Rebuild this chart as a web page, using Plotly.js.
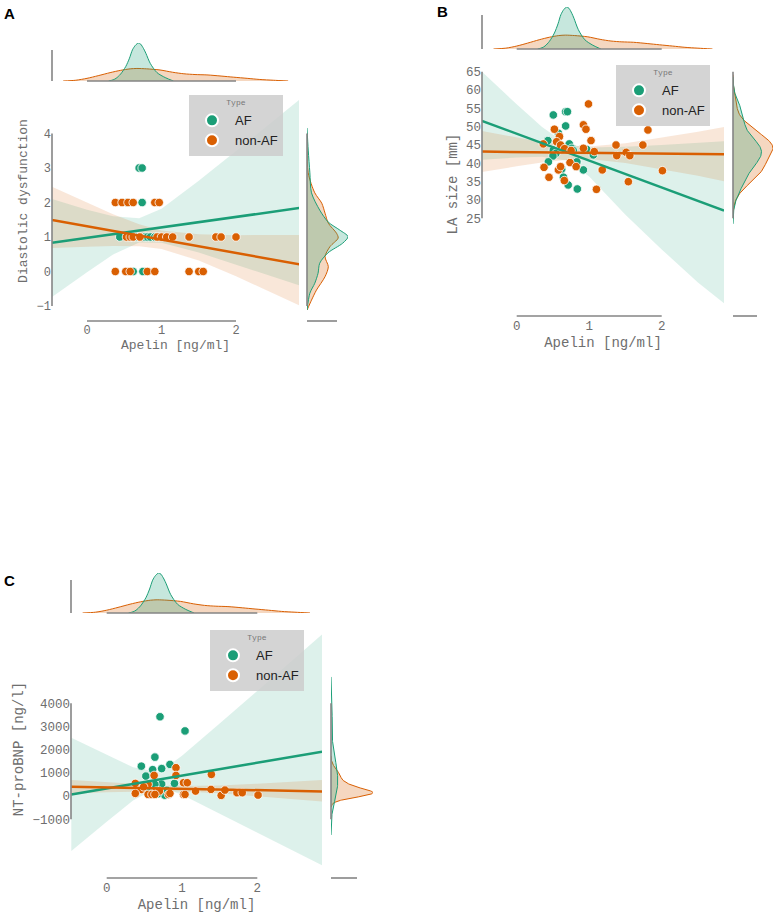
<!DOCTYPE html>
<html><head><meta charset="utf-8">
<script src="https://cdn.plot.ly/plotly-3.0.1.min.js"></script>
<style>html,body{margin:0;padding:0;background:#fff}#chart{width:783px;height:915px}</style>
</head><body><div id="chart"></div>
<script>
// ================= DATA =================
const groupNames = ['AF', 'non-AF'];
const xTicks = [0, 1, 2];

// ---- Apelin marginal densities (same in all three panels; relative heights) ----
const afApelinGrid  = [0.29, 0.35, 0.39, 0.45, 0.52, 0.57, 0.61, 0.65, 0.69, 0.72, 0.76, 0.79, 0.85, 0.94, 1.05, 1.16];
const afApelinDens  = [0, 0.03, 0.07, 0.18, 0.38, 0.60, 0.82, 0.94, 1.00, 0.97, 0.85, 0.73, 0.46, 0.22, 0.09, 0];
const nonApelinGrid = [-0.32, -0.15, 0, 0.15, 0.31, 0.45, 0.58, 0.67, 0.80, 0.98, 1.15, 1.30, 1.45, 1.61, 1.80, 1.97, 2.15, 2.32, 2.50, 2.70];
const nonApelinDens = [0, 0.02, 0.07, 0.14, 0.22, 0.28, 0.32, 0.33, 0.32, 0.29, 0.23, 0.19, 0.17, 0.16, 0.13, 0.10, 0.07, 0.04, 0.02, 0];

// ---- Panel A : Apelin vs Diastolic dysfunction ----
const afApelinA  = [0.44,0.54,0.60,0.62,0.66,0.70,0.70,0.74,0.74,0.75,0.78,0.81,0.85,0.91,0.95];
const afDiastA   = [1,2,1,0,1,3,1,3,2,0,1,1,1,1,1];
const nonApelinA = [0.38,0.47,0.55,0.62,0.91,0.97,0.53,0.58,0.62,0.71,0.94,1.00,1.07,1.15,1.37,1.73,1.80,2.00,0.38,0.52,0.58,0.81,0.91,1.37,1.50,1.56];
const nonDiastA  = [2,2,2,2,2,2,1,1,1,1,1,1,1,1,1,1,1,1,0,0,0,0,0,0,0,0];
const lineXA   = [-0.47, 2.85];
const afLineA  = [0.83, 1.84];
const nonLineA = [1.49, 0.21];
const bandXA   = [-0.47, 0, 0.35, 0.7, 1.0, 1.5, 2.0, 2.5, 2.85];
const afUpA    = [2.10, 1.79, 1.60, 1.54, 1.82, 2.63, 3.49, 4.36, 4.98];
const afLoA    = [-0.74, -0.02, 0.49, 0.84, 0.83, 0.55, 0.21, -0.15, -0.40];
const nonUpA   = [2.46, 2.00, 1.66, 1.37, 1.19, 1.08, 1.05, 1.06, 1.06];
const nonLoA   = [0.68, 0.72, 0.74, 0.73, 0.65, 0.32, -0.14, -0.63, -0.98];
const yTicksA  = [-1, 0, 1, 2, 3, 4];
// diastolic-dysfunction marginal densities (relative heights)
const afDiastGrid  = [4.16, 3.52, 2.86, 2.28, 1.78, 1.43, 1.20, 1.01, 0.82, 0.54, 0.24, -0.05, -0.34, -0.63, -1.12];
const afDiastDens  = [0, 0.03, 0.07, 0.11, 0.31, 0.52, 0.80, 1.00, 0.87, 0.51, 0.31, 0.27, 0.19, 0.07, 0];
const nonDiastGrid = [4.00, 2.86, 2.28, 1.98, 1.69, 1.40, 1.11, 0.97, 0.72, 0.43, 0.14, -0.15, -0.54, -0.83, -1.12];
const nonDiastDens = [0, 0.03, 0.19, 0.36, 0.44, 0.52, 0.72, 0.76, 0.56, 0.44, 0.52, 0.44, 0.23, 0.11, 0];

// ---- Panel B : Apelin vs LA size ----
const afApelinB  = [0.505,0.675,0.70,0.675,0.575,0.43,0.725,0.76,0.505,0.54,0.50,0.965,1.057,0.437,0.83,0.62,0.92,0.645,0.71,0.836,0.78,0.60];
const afLaB      = [53.2,54.1,54.1,50.2,48.2,46.2,45.3,44.1,43.6,42.7,42.0,43.8,42.3,40.4,40.4,38.4,38.2,36.2,34.1,33.0,43.5,44.5];
const nonApelinB = [0.99,0.52,0.92,0.955,0.367,0.59,0.55,0.605,1.025,0.92,1.07,1.37,1.38,1.51,1.56,1.74,1.81,2.01,1.18,1.54,1.10,0.377,0.445,0.575,0.605,0.657,0.735,0.82,0.66,0.75];
const nonLaB     = [56.2,49.3,50.5,49.3,45.3,47.3,45.9,45.0,46.2,44.1,43.2,45.0,42.1,43.0,42.1,45.0,49.1,38.0,38.2,35.0,32.9,38.9,36.2,38.2,39.1,35.3,40.2,39.1,44.0,43.5];
const lineXB   = [-0.48, 2.86];
const afLineB  = [51.6, 27.1];
const nonLineB = [43.2, 42.5];
const bandXB   = [-0.48, 0, 0.35, 0.7, 1.0, 1.5, 2.0, 2.5, 2.86];
const afUpB    = [65.0, 56.1, 49.9, 45.1, 44.3, 44.5, 45.0, 45.6, 46.0];
const afLoB    = [41.0, 41.6, 41.8, 40.7, 36.4, 26.0, 16.5, 7.5, 1.8];
const nonUpB   = [48.8, 47.0, 45.8, 44.9, 44.6, 45.5, 47.0, 48.6, 49.9];
const nonLoB   = [37.6, 39.2, 40.2, 41.0, 41.2, 40.1, 38.4, 36.6, 35.1];
const yTicksB  = [25, 30, 35, 40, 45, 50, 55, 60, 65];

// ---- Panel C : Apelin vs NT-proBNP ----
const afApelinC  = [0.708,1.04,0.64,0.46,0.84,0.73,0.61,0.52,0.90,0.73,0.64,0.77,0.68,0.55,0.80];
const afBnpC     = [3420,2810,1680,1290,1366,1185,1140,862,547,520,504,40,100,150,250];
const nonApelinC = [0.92,0.63,0.92,1.39,0.38,0.55,1.02,1.07,0.46,0.38,0.66,0.70,0.55,0.60,0.64,0.82,1.02,1.04,1.18,1.385,1.52,1.57,1.73,1.80,2.01,0.84,0.49];
const nonBnpC    = [1224,892,892,935,547,504,577,577,289,116,216,216,73,73,73,73,73,73,216,289,30,259,147,147,43,116,400];
const lineXC   = [-0.47, 2.86];
const afLineC  = [73, 1914];
const nonLineC = [405, 203];
const bandXC   = [-0.47, 0, 0.35, 0.7, 1.0, 1.5, 2.0, 2.5, 2.86];
const afUpC    = [2517, 1772, 1242, 1030, 1740, 3126, 4536, 5950, 6970];
const afLoC    = [-2371, -1106, -190, 410, 62, -743, -1564, -2391, -2987];
const nonUpC   = [690, 589, 521, 465, 436, 460, 535, 624, 690];
const nonLoC   = [100, 163, 189, 203, 196, 121, 2, -131, -230];
const yTicksC  = [-1000, 0, 1000, 2000, 3000, 4000];

// ================= STYLE / LAYOUT =================
const W = 783, H = 915;
const PX = p => p / W;
const PY = p => 1 - p / H;
const lin = (v1, p1, v2, p2, p) => v1 + (p - p1) * (v2 - v1) / (p2 - p1);
const COL = {AF: '#1b9e77', non: '#d95f02'};
const BAND = {AF: 'rgba(27,158,119,0.15)', non: 'rgba(217,95,2,0.15)'};
const KFILL = {AF: 'rgba(27,158,119,0.25)', non: 'rgba(217,95,2,0.25)'};
const SPINE = '#858585';
const MONO = 'Liberation Mono, Courier New, monospace';
const SANS = 'Liberation Sans, Arial, sans-serif';

// Gaussian KDE (Scott bandwidth, common normalisation) from the point data
function kde(vals, total) {
  const n = vals.length;
  const m = vals.reduce((a, b) => a + b, 0) / n;
  const sd = Math.sqrt(vals.reduce((a, b) => a + (b - m) ** 2, 0) / (n - 1));
  const bw = sd * Math.pow(n, -0.2);
  const lo = Math.min(...vals) - 3 * bw, hi = Math.max(...vals) + 3 * bw;
  const g = [], d = [];
  for (let i = 0; i <= 240; i++) {
    const x = lo + (hi - lo) * i / 240;
    let s = 0;
    for (const v of vals) { const z = (x - v) / bw; s += Math.exp(-0.5 * z * z); }
    g.push(x); d.push(s / (total * bw * Math.sqrt(2 * Math.PI)));
  }
  return {g, d, shape: 'linear'};
}

const traces = [], layout = {
  width: W, height: H, margin: {l: 0, r: 0, t: 0, b: 0},
  paper_bgcolor: '#fff', plot_bgcolor: 'rgba(0,0,0,0)', showlegend: true,
  hovermode: false, shapes: [], annotations: []
};
const axKey = id => (id[0] === 'x' ? 'xaxis' : 'yaxis') + id.slice(1);
const topA = {g: afApelinGrid, d: afApelinDens, shape: 'spline'};
const topN = {g: nonApelinGrid, d: nonApelinDens, shape: 'spline'};

function panel(c) {
  const [xm, ym] = c.main, [xt, yt] = c.top, [xr, yr] = c.right;
  const xRange = [lin(...c.xcal, c.l), lin(...c.xcal, c.r)];
  const yRange = [lin(...c.ycal, c.b), lin(...c.ycal, c.t)];
  const yLo = c.yTicks[0], yHi = c.yTicks[c.yTicks.length - 1];
  const N = c.afX.length + c.nonX.length;
  const kxA = topA, kxN = topN;
  const kyA = c.rightA || kde(c.afY, N), kyN = c.rightN || kde(c.nonY, N);
  const maxTop = Math.max(...kxA.d, ...kxN.d);
  const maxRight = Math.max(...kyA.d, ...kyN.d);

  layout[axKey(xm)] = {domain: [PX(c.l), PX(c.r)], range: xRange, anchor: 'free', position: PY(c.xSpine),
    showline: false, showgrid: false, zeroline: false, ticks: '', tickvals: xTicks,
    tickfont: {family: MONO, size: c.tickSize, color: '#6e6e6e'},
    title: {text: 'Apelin [ng/ml]', font: {family: MONO, size: c.titleSize, color: '#6e6e6e'}, standoff: c.xStand}};
  layout[axKey(ym)] = {domain: [PY(c.b), PY(c.t)], range: yRange, anchor: xm,
    showline: false, showgrid: false, zeroline: false, ticks: '', tickvals: c.yTicks,
    tickfont: {family: MONO, size: c.tickSize, color: '#6e6e6e'},
    title: {text: c.yTitle, font: {family: MONO, size: c.titleSize, color: '#6e6e6e'}, standoff: c.yStand}};
  layout[axKey(xt)] = {domain: [PX(c.l), PX(c.r)], range: xRange, anchor: yt, visible: false};
  layout[axKey(yt)] = {domain: [PY(c.topBase), PY(c.topPeak)], range: [0, maxTop], anchor: xt, visible: false};
  layout[axKey(xr)] = {domain: [PX(c.rightBase), PX(c.rightPeak)], range: [0, maxRight], anchor: yr, visible: false};
  layout[axKey(yr)] = {domain: [PY(c.b), PY(c.t)], range: yRange, anchor: xr, visible: false};

  const band = (up, lo, k) => ({type: 'scatter', mode: 'lines', xaxis: xm, yaxis: ym, showlegend: false,
    x: c.bandX.concat(c.bandX.slice().reverse()), y: up.concat(lo.slice().reverse()),
    fill: 'toself', fillcolor: BAND[k], line: {width: 0}, hoverinfo: 'skip'});
  traces.push(band(c.afUp, c.afLo, 'AF'), band(c.nonUp, c.nonLo, 'non'));
  const pts = (x, y, k, name) => ({type: 'scatter', mode: 'markers', x, y, xaxis: xm, yaxis: ym,
    name, legend: c.legend, showlegend: true,
    marker: {color: COL[k], size: 8.5, line: {color: '#fff', width: 0.8}}});
  traces.push(pts(c.afX, c.afY, 'AF', groupNames[0]), pts(c.nonX, c.nonY, 'non', groupNames[1]));
  const ln = (y, k) => ({type: 'scatter', mode: 'lines', x: c.lineX, y, xaxis: xm, yaxis: ym,
    showlegend: false, line: {color: COL[k], width: 2.5}});
  traces.push(ln(c.afLine, 'AF'), ln(c.nonLine, 'non'));
  const kt = (k, key) => ({type: 'scatter', mode: 'lines', x: k.g, y: k.d, xaxis: xt, yaxis: yt, showlegend: false,
    fill: 'tozeroy', fillcolor: KFILL[key], line: {color: COL[key], width: 1, shape: k.shape, smoothing: 0.8}});
  const kr = (k, key) => ({type: 'scatter', mode: 'lines', x: k.d, y: k.g, xaxis: xr, yaxis: yr, showlegend: false,
    fill: 'tozerox', fillcolor: KFILL[key], line: {color: COL[key], width: 1, shape: k.shape, smoothing: 0.8}});
  traces.push(kt(kxN, 'non'), kt(kxA, 'AF'), kr(kyN, 'non'), kr(kyA, 'AF'));

  const L = {color: SPINE, width: 1.6};
  layout.shapes.push(
    {type: 'line', xref: 'paper', yref: ym, x0: PX(c.l), x1: PX(c.l), y0: yLo, y1: yHi, line: L},
    {type: 'line', xref: xm, yref: 'paper', x0: xTicks[0], x1: xTicks[2], y0: PY(c.xSpine), y1: PY(c.xSpine), line: L},
    {type: 'line', xref: 'paper', yref: 'paper', x0: PX(c.l), x1: PX(c.l), y0: PY(c.topBase), y1: PY(c.topSpineTop), line: L},
    {type: 'line', xref: xt, yref: 'paper', x0: xTicks[0], x1: xTicks[2], y0: PY(c.topBase), y1: PY(c.topBase), line: L},
    {type: 'line', xref: 'paper', yref: yr, x0: PX(c.rightBase), x1: PX(c.rightBase), y0: yLo, y1: yHi, line: L},
    {type: 'line', xref: 'paper', yref: 'paper', x0: PX(c.rightBase), x1: PX(c.rightBottomEnd), y0: PY(c.xSpine), y1: PY(c.xSpine), line: L}
  );
  layout.annotations.push({text: '<b>' + c.label + '</b>', xref: 'paper', yref: 'paper', x: PX(c.labelXY[0]), y: PY(c.labelXY[1]),
    xanchor: 'center', yanchor: 'middle', showarrow: false, font: {family: SANS, size: 15, color: '#000'}});
  layout[c.legend] = {x: PX(c.legXY[0]), y: PY(c.legXY[1]), xanchor: 'left', yanchor: 'top',
    bgcolor: 'rgba(204,204,204,0.85)', borderwidth: 0, font: {family: SANS, size: 13, color: '#222'},
    title: {text: 'Type', side: 'top center', font: {family: MONO, size: 8, color: '#777'}},
    itemsizing: 'constant', itemwidth: 36, tracegroupgap: 0};
}

panel({label: 'A', labelXY: [9, 14], legend: 'legend', legXY: [189, 95],
  main: ['x', 'y'], top: ['x2', 'y2'], right: ['x3', 'y3'],
  l: 52, r: 299, t: 92, b: 310, xcal: [0, 87, 2, 236], ycal: [4, 133.5, -1, 306],
  xSpine: 321, topBase: 81, topPeak: 43, topSpineTop: 50, rightBase: 307, rightPeak: 348, rightBottomEnd: 337,
  afX: afApelinA, afY: afDiastA, nonX: nonApelinA, nonY: nonDiastA,
  rightA: {g: afDiastGrid, d: afDiastDens, shape: 'spline'}, rightN: {g: nonDiastGrid, d: nonDiastDens, shape: 'spline'},
  lineX: lineXA, afLine: afLineA, nonLine: nonLineA, bandX: bandXA,
  afUp: afUpA, afLo: afLoA, nonUp: nonUpA, nonLo: nonLoA,
  yTicks: yTicksA, yTitle: 'Diastolic dysfunction', tickSize: 12, titleSize: 13, xStand: 0, yStand: 6});

panel({label: 'B', labelXY: [442, 11], legend: 'legend2', legXY: [616, 65],
  main: ['x4', 'y4'], top: ['x5', 'y5'], right: ['x6', 'y6'],
  l: 482, r: 724, t: 62, b: 306, xcal: [0, 516.7, 2, 661.7], ycal: [65, 71.7, 25, 218.3],
  xSpine: 316, topBase: 49, topPeak: 7, topSpineTop: 15, rightBase: 733, rightPeak: 773, rightBottomEnd: 757,
  afX: afApelinB, afY: afLaB, nonX: nonApelinB, nonY: nonLaB,
  lineX: lineXB, afLine: afLineB, nonLine: nonLineB, bandX: bandXB,
  afUp: afUpB, afLo: afLoB, nonUp: nonUpB, nonLo: nonLoB,
  yTicks: yTicksB, yTitle: 'LA size [mm]', tickSize: 12.5, titleSize: 14, xStand: 4, yStand: 5});

panel({label: 'C', labelXY: [9, 580], legend: 'legend3', legXY: [210, 630],
  main: ['x7', 'y7'], top: ['x8', 'y8'], right: ['x9', 'y9'],
  l: 71, r: 322, t: 628, b: 870, xcal: [0, 106.7, 2, 257.3], ycal: [4000, 703.3, -1000, 819.3],
  xSpine: 878, topBase: 613, topPeak: 573, topSpineTop: 580, rightBase: 331, rightPeak: 373, rightBottomEnd: 357,
  afX: afApelinC, afY: afBnpC, nonX: nonApelinC, nonY: nonBnpC,
  lineX: lineXC, afLine: afLineC, nonLine: nonLineC, bandX: bandXC,
  afUp: afUpC, afLo: afLoC, nonUp: nonUpC, nonLo: nonLoC,
  yTicks: yTicksC, yTitle: 'NT-proBNP [ng/l]', tickSize: 12.5, titleSize: 14, xStand: 4, yStand: 5});

Plotly.newPlot('chart', traces, layout, {staticPlot: true, displayModeBar: false});
</script>
</body></html>
